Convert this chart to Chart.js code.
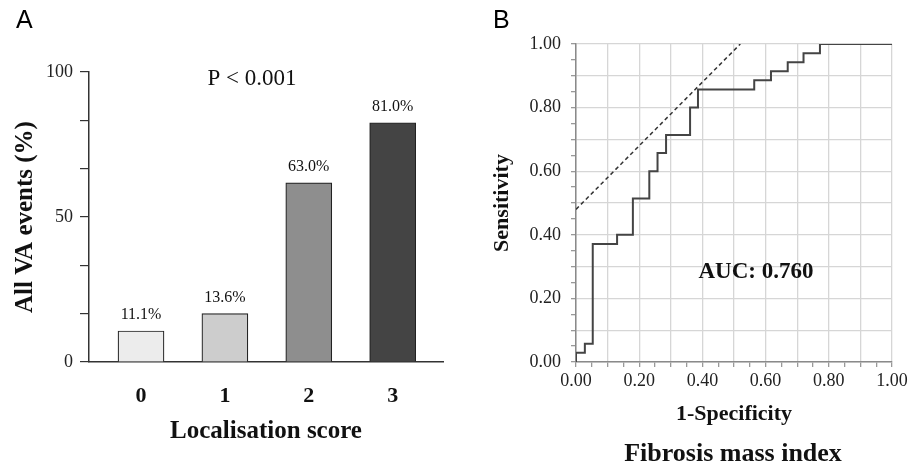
<!DOCTYPE html>
<html>
<head>
<meta charset="utf-8">
<script src="https://cdn.jsdelivr.net/npm/chart.js@4.4.0/dist/chart.umd.min.js"></script>
<style>
  body { margin: 0; background: #fff; }
  #wrap { position: relative; width: 920px; height: 466px; }
  canvas { position: absolute; top: 0; }
  #chartA { left: 0; }
  #chartB { left: 460px; }
</style>
</head>
<body>
<div id="wrap">
  <canvas id="chartA" width="460" height="466"></canvas>
  <canvas id="chartB" width="460" height="466"></canvas>
</div>
<script>
// Panel A: localisation score vs VA events
const scoreCategories = ['0', '1', '2', '3'];
const vaEventBars = [10.7, 16.7, 61.8, 82.5]; // bar heights as drawn
const vaEventLabels = ['11.1%', '13.6%', '63.0%', '81.0%'];
const barColors = ['#ececec', '#cdcdcd', '#8e8e8e', '#444444'];
const yTicksA = [0, 100 / 6, 200 / 6, 50, 400 / 6, 500 / 6, 100];
const yLabelsA = [0, 50, 100];

// Panel B: ROC curve (vertical step positions, sensitivity after the step)
const rocFpr = [0, 0, 0.028, 0.053, 0.13, 0.18, 0.232, 0.258, 0.285, 0.361, 0.386, 0.564, 0.617, 0.67, 0.72, 0.772, 1.0];
const rocTpr = [0, 0.029, 0.057, 0.371, 0.4, 0.514, 0.6, 0.657, 0.714, 0.8, 0.857, 0.886, 0.914, 0.943, 0.971, 1.0, 1.0];
const tangentX = [0, 0.52];
const tangentY = [0.48, 1.0];
const axisTicksB = [0, 0.05, 0.1, 0.15, 0.2, 0.25, 0.3, 0.35, 0.4, 0.45, 0.5, 0.55, 0.6, 0.65, 0.7, 0.75, 0.8, 0.85, 0.9, 0.95, 1.0];

const serif = '"Liberation Serif", "Times New Roman", serif';
const sans = '"Liberation Sans", Arial, sans-serif';

function drawText(ctx, text, x, y, font, align) {
    ctx.save();
    ctx.font = font;
    ctx.fillStyle = '#111';
    ctx.textAlign = align || 'center';
    ctx.textBaseline = 'middle';
    ctx.fillText(text, x, y);
    ctx.restore();
}

const annotateA = {
    id: 'annotateA',
    afterDatasetsDraw(chart) {
        const ctx = chart.ctx;
        const xs = chart.scales.x, ys = chart.scales.y;
        vaEventBars.forEach((v, i) => {
            drawText(ctx, vaEventLabels[i], xs.getPixelForValue(i), ys.getPixelForValue(v) - 16, '16px ' + serif);
        });
        drawText(ctx, 'P < 0.001', 252, 79, '23px ' + serif);
        ctx.save();
        ctx.font = '25px ' + sans;
        ctx.fillStyle = '#000';
        ctx.textBaseline = 'alphabetic';
        ctx.fillText('A', 16, 28);
        ctx.restore();
    }
};

new Chart(document.getElementById('chartA'), {
    type: 'bar',
    data: {
        datasets: [{
            data: vaEventBars.map((v, i) => ({ x: i, y: v })),
            backgroundColor: barColors,
            borderColor: '#222',
            borderWidth: 1.2,
            barThickness: 46
        }]
    },
    options: {
        responsive: false,
        animation: false,
        layout: { padding: { top: 72, right: 17, left: 0, bottom: 0 } },
        plugins: { legend: { display: false }, tooltip: { enabled: false } },
        scales: {
            x: {
                type: 'linear',
                offset: false,
                min: -0.62,
                max: 3.6,
                afterBuildTicks: s => { s.ticks = scoreCategories.map((c, i) => ({ value: i })); },
                afterFit: s => { s.height = 104; },
                grid: { display: false, offset: false },
                border: { display: true, color: '#333', width: 1.5 },
                ticks: {
                    padding: 13,
                    color: '#111',
                    font: { family: serif, size: 22, weight: 'bold' },
                    callback: v => scoreCategories[v]
                },
                title: {
                    display: true,
                    text: 'Localisation score',
                    color: '#111',
                    font: { family: serif, size: 25, weight: 'bold' },
                    padding: { top: 0, bottom: 19 }
                }
            },
            y: {
                min: 0,
                max: 100,
                afterBuildTicks: s => { s.ticks = yTicksA.map(v => ({ value: v })); },
                afterFit: s => { s.width = 89; },
                grid: { drawOnChartArea: false, drawTicks: true, tickLength: 9, tickColor: '#333', lineWidth: 1.2 },
                border: { display: true, color: '#333', width: 1.5 },
                ticks: {
                    padding: 7,
                    color: '#222',
                    font: { family: serif, size: 18 },
                    callback: v => yLabelsA.some(l => Math.abs(l - v) < 0.01) ? String(Math.round(v)) : ''
                },
                title: {
                    display: true,
                    text: 'All VA events (%)',
                    color: '#111',
                    font: { family: serif, size: 25, weight: 'bold' },
                    padding: { top: 11, bottom: 0 }
                }
            }
        }
    },
    plugins: [annotateA]
});

const annotateB = {
    id: 'annotateB',
    afterDraw(chart) {
        const ctx = chart.ctx;
        drawText(ctx, 'AUC: 0.760', 296, 272, 'bold 23px ' + serif);
        drawText(ctx, 'Fibrosis mass index', 273, 454, 'bold 26px ' + serif);
        ctx.save();
        ctx.font = '25px ' + sans;
        ctx.fillStyle = '#000';
        ctx.textBaseline = 'alphabetic';
        ctx.fillText('B', 33, 28);
        ctx.restore();
    }
};

const gridColorB = c => {
    const v = c.tick ? c.tick.value : 0;
    return Math.abs(v * 10 - Math.round(v * 10)) < 0.01 ? '#d6d6d6' : 'rgba(0,0,0,0)';
};

const axisB = (labelStep) => ({
    type: 'linear',
    min: 0,
    max: 1,
    afterBuildTicks: s => { s.ticks = axisTicksB.map(v => ({ value: v })); },
    grid: { color: gridColorB, lineWidth: 1.3, tickLength: 5, tickColor: '#999' },
    border: { display: true, color: '#8a8a8a', width: 1.5 },
    ticks: {
        color: '#222',
        font: { family: serif, size: 18 },
        autoSkip: false,
        maxRotation: 0,
        callback: v => Math.abs(v / labelStep - Math.round(v / labelStep)) < 0.01 ? v.toFixed(2) : ''
    }
});

const xB = axisB(0.2);
xB.afterFit = s => { s.height = 104; };
xB.ticks.padding = 3;
xB.title = {
    display: true,
    text: '1-Specificity',
    color: '#111',
    font: { family: serif, size: 22, weight: 'bold' },
    padding: { top: 0, bottom: 38 }
};

const yB = axisB(0.2);
yB.afterFit = s => { s.width = 116; };
yB.ticks.padding = 10;
yB.title = {
    display: true,
    text: 'Sensitivity',
    color: '#111',
    font: { family: serif, size: 22, weight: 'bold' },
    padding: { top: 29, bottom: 0 }
};

new Chart(document.getElementById('chartB'), {
    type: 'line',
    data: {
        datasets: [{
            data: rocFpr.map((x, i) => ({ x: x, y: rocTpr[i] })),
            borderColor: '#444',
            borderWidth: 2,
            stepped: 'before',
            pointRadius: 0,
            fill: false
        }, {
            data: tangentX.map((x, i) => ({ x: x, y: tangentY[i] })),
            borderColor: '#333',
            borderWidth: 1.5,
            borderDash: [4, 3],
            pointRadius: 0,
            fill: false
        }]
    },
    options: {
        responsive: false,
        animation: false,
        layout: { padding: { top: 44, right: 28, left: 0, bottom: 0 } },
        plugins: { legend: { display: false }, tooltip: { enabled: false } },
        scales: { x: xB, y: yB }
    },
    plugins: [annotateB]
});
</script>
</body>
</html>
